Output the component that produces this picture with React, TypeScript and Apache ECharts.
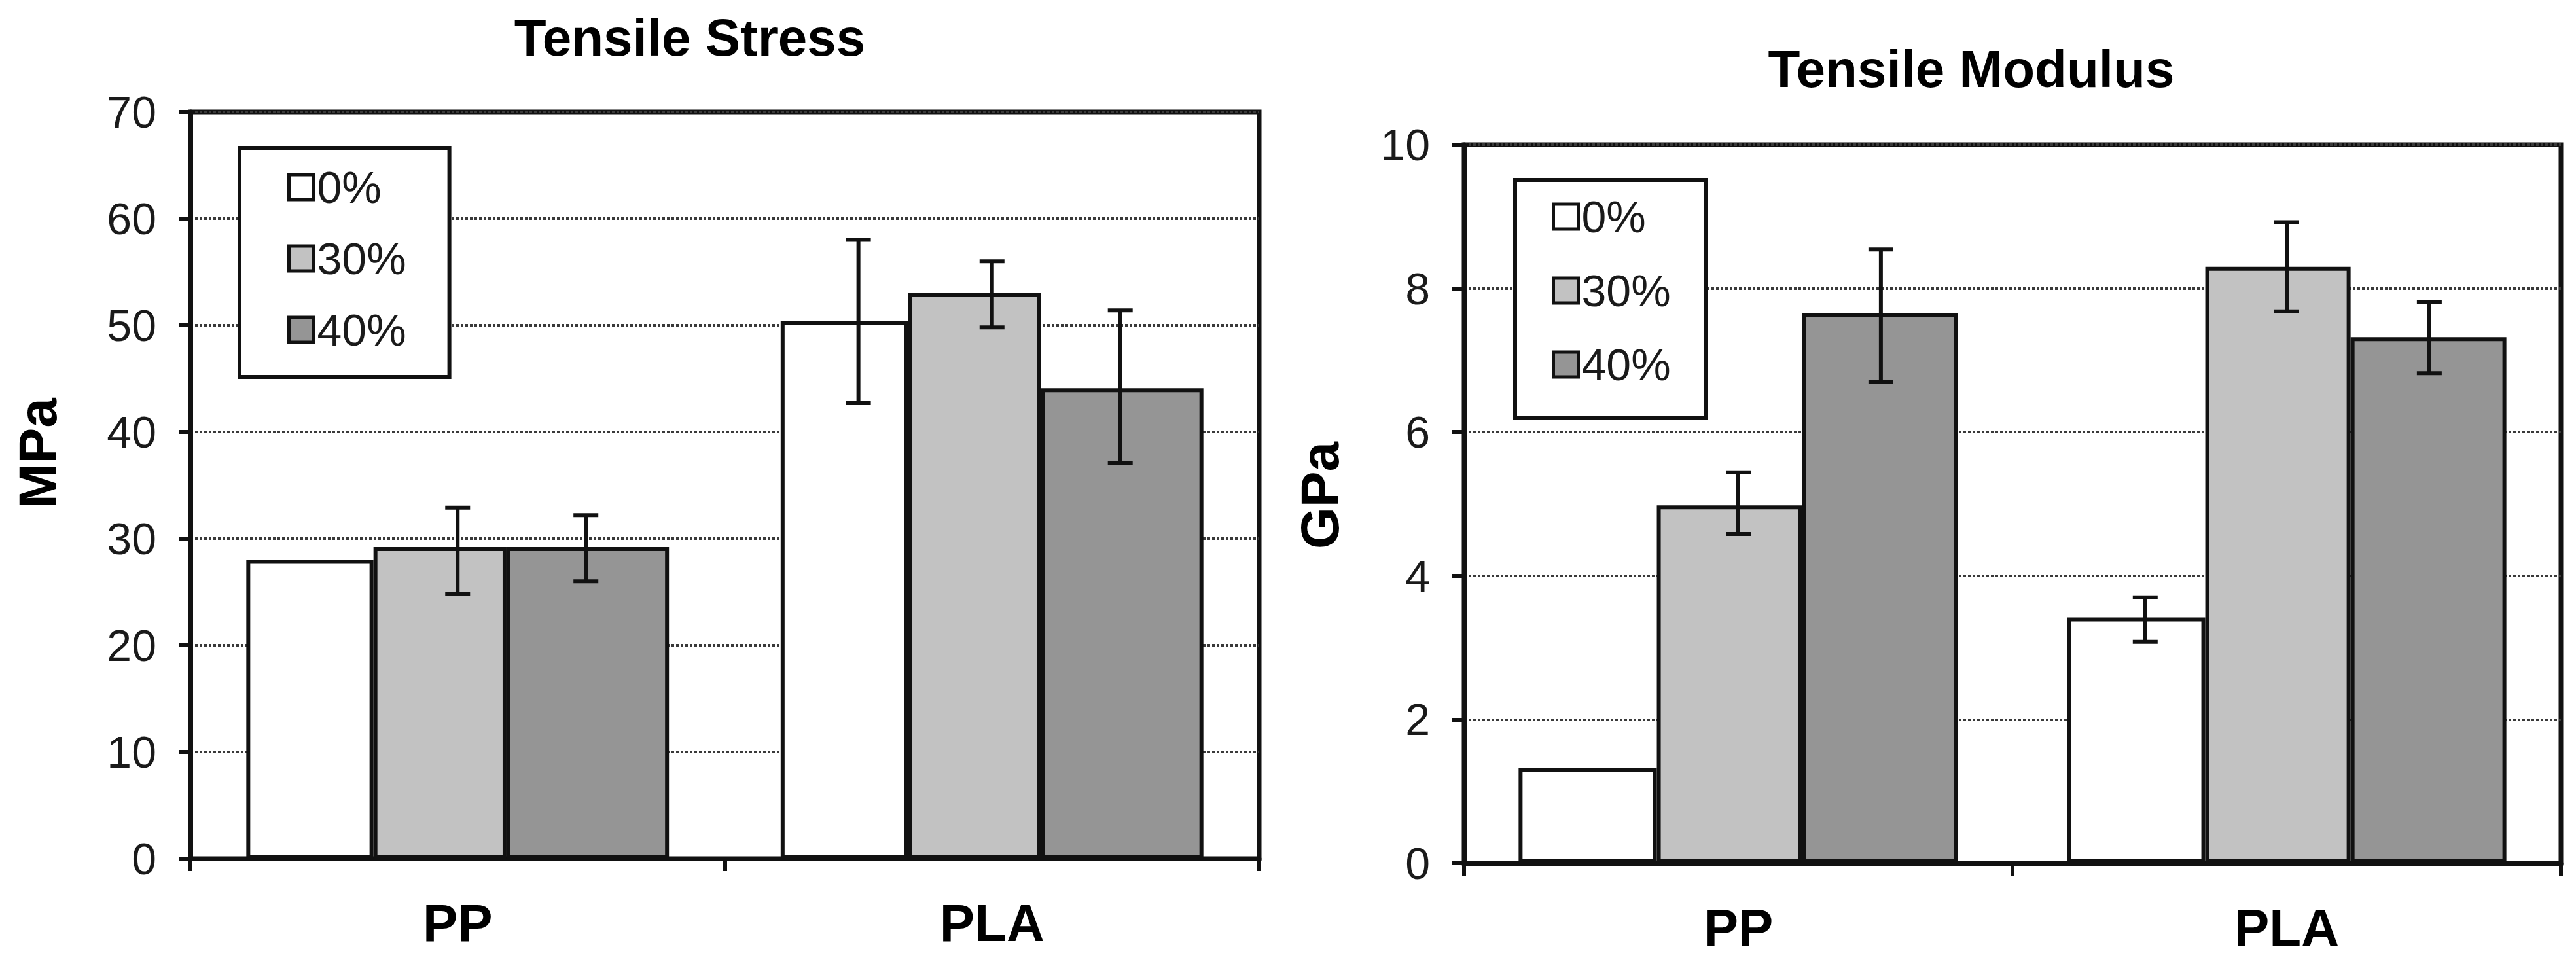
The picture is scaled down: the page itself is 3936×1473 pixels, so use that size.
import React, { useEffect, useRef } from "react";
import * as echarts from "echarts";

const categories = ["PP", "PLA"];
const groups = ["0%", "30%", "40%"];
const fills = ["#ffffff", "#c2c2c2", "#959595"];

// Tensile stress (MPa)
const stress0 = [28.0, 50.4];
const stress30 = [29.2, 53.0];
const stress40 = [29.2, 44.1];
const stressLow0 = [null, 42.7];
const stressHigh0 = [null, 58.0];
const stressLow30 = [24.8, 49.8];
const stressHigh30 = [32.9, 56.0];
const stressLow40 = [26.0, 37.1];
const stressHigh40 = [32.2, 51.4];

// Tensile modulus (GPa)
const modulus0 = [1.33, 3.42];
const modulus30 = [4.98, 8.3];
const modulus40 = [7.65, 7.32];
const modLow0 = [null, 3.08];
const modHigh0 = [null, 3.7];
const modLow30 = [4.58, 7.68];
const modHigh30 = [5.44, 8.92];
const modLow40 = [6.7, 6.82];
const modHigh40 = [8.54, 7.81];

const FONT = "'Liberation Sans', Arial, Helvetica, sans-serif";

// bar widths as share of the category band
const stressWidths = [0.238, 0.249, 0.304];
const modWidths = [0.252, 0.265, 0.284];
// where the error bars sit, as share of the band from its centre
const stressErrPos = [-0.25, 0, 0.24];
const modErrPos = [-0.258, 0, 0.26];

const errData = (low: (number | null)[], high: (number | null)[]) =>
  low
    .map((l, i) => (l == null || high[i] == null ? null : [i, l, high[i]]))
    .filter((d) => d !== null) as number[][];

const errSeries = (
  name: string,
  axis: number,
  offset: number,
  data: number[][]
) => ({
  name,
  type: "custom",
  xAxisIndex: axis,
  yAxisIndex: axis,
  z: 5,
  clip: false,
  encode: { x: 0, y: [1, 2] },
  data,
  renderItem: (params: any, api: any) => {
    const band = api.size([1, 0])[0];
    const lo = api.coord([api.value(0), api.value(1)]);
    const hi = api.coord([api.value(0), api.value(2)]);
    const x = lo[0] + offset * band;
    const cap = 19;
    const style = { stroke: "#111", lineWidth: 6 };
    return {
      type: "group",
      children: [
        { type: "line", shape: { x1: x, y1: hi[1], x2: x, y2: lo[1] }, style },
        { type: "line", shape: { x1: x - cap, y1: hi[1], x2: x + cap, y2: hi[1] }, style },
        { type: "line", shape: { x1: x - cap, y1: lo[1], x2: x + cap, y2: lo[1] }, style },
      ],
    };
  },
});

const barSeries = (name: string, axis: number, idx: number, width: number, data: number[]) => ({
  name,
  type: "bar",
  xAxisIndex: axis,
  yAxisIndex: axis,
  barWidth: `${(width * 100).toFixed(1)}%`,
  barGap: "0%",
  data,
  itemStyle: { color: fills[idx], borderColor: "#111", borderWidth: 6 },
});

const xAxisBase = (gridIndex: number) => ({
  gridIndex,
  type: "category",
  data: categories,
  axisLine: { lineStyle: { color: "#111", width: 7 } },
  axisTick: { show: true, length: 19, lineStyle: { color: "#111", width: 6 } },
  axisLabel: { fontSize: 80, fontWeight: "bold", color: "#000", margin: 58, fontFamily: FONT },
  splitLine: { show: false },
});

const yAxisBase = (gridIndex: number, max: number, interval: number, name: string, nameGap: number, shift: number) => ({
  gridIndex,
  type: "value",
  min: 0,
  max,
  interval,
  name,
  nameLocation: "middle",
  nameGap,
  nameTextStyle: {
    fontSize: 82,
    fontWeight: "bold",
    color: "#000",
    fontFamily: FONT,
    padding: [0, 0, 0, shift],
  },
  axisLine: { show: true, lineStyle: { color: "#111", width: 7 } },
  axisTick: { show: true, length: 18, lineStyle: { color: "#111", width: 6 } },
  axisLabel: { fontSize: 68, color: "#1a1a1a", margin: 52, fontFamily: FONT },
  splitLine: { show: true, lineStyle: { color: "#3a3a3a", width: 4, type: [4, 3] } },
});

const legendBase = (left: number, top: number, padding: number[], itemGap: number) => ({
  orient: "vertical",
  left,
  top,
  padding,
  itemGap,
  itemWidth: 38,
  itemHeight: 38,
  icon: "rect",
  selectedMode: false,
  borderColor: "#111",
  borderWidth: 6,
  backgroundColor: "#fff",
  data: groups,
  itemStyle: { borderColor: "#111", borderWidth: 5 },
  textStyle: { fontSize: 68, lineHeight: 66, color: "#1a1a1a", fontFamily: FONT },
});

const App: React.FC = () => {
  const chartRef = useRef<HTMLDivElement>(null);

  useEffect(() => {
    if (!chartRef.current) return;
    const chart = echarts.init(chartRef.current, undefined, { renderer: "svg" });

    const stressVals = [stress0, stress30, stress40];
    const modVals = [modulus0, modulus30, modulus40];

    const option: any = {
      animation: false,
      backgroundColor: "#fff",
      textStyle: { fontFamily: FONT },
      graphic: [
        {
          type: "text",
          x: 1054,
          y: 57,
          style: {
            text: "Tensile Stress",
            fontSize: 80,
            fontWeight: "bold",
            fontFamily: FONT,
            fill: "#000",
            textAlign: "center",
            textVerticalAlign: "middle",
          },
        },
        {
          type: "text",
          x: 3012,
          y: 105,
          style: {
            text: "Tensile Modulus",
            fontSize: 80,
            fontWeight: "bold",
            fontFamily: FONT,
            fill: "#000",
            textAlign: "center",
            textVerticalAlign: "middle",
          },
        },
      ],
      grid: [
        { left: 291, top: 171, width: 1633, height: 1141, show: true, borderColor: "#111", borderWidth: 7, backgroundColor: "#fff" },
        { left: 2237, top: 221, width: 1676, height: 1098, show: true, borderColor: "#111", borderWidth: 7, backgroundColor: "#fff" },
      ],
      xAxis: [xAxisBase(0), xAxisBase(1)],
      yAxis: [
        yAxisBase(0, 70, 10, "MPa", 193, 98),
        yAxisBase(1, 10, 2, "GPa", 180, 26),
      ],
      legend: [
        legendBase(366, 226, [26, 66, 38, 73], 41),
        legendBase(2315, 275, [22, 54, 48, 56], 45),
      ],
      series: [
        ...groups.map((g, i) => barSeries(g, 0, i, stressWidths[i], stressVals[i])),
        ...groups.map((g, i) => barSeries(g, 1, i, modWidths[i], modVals[i])),
        errSeries("stress err 0%", 0, stressErrPos[0], errData(stressLow0, stressHigh0)),
        errSeries("stress err 30%", 0, stressErrPos[1], errData(stressLow30, stressHigh30)),
        errSeries("stress err 40%", 0, stressErrPos[2], errData(stressLow40, stressHigh40)),
        errSeries("modulus err 0%", 1, modErrPos[0], errData(modLow0, modHigh0)),
        errSeries("modulus err 30%", 1, modErrPos[1], errData(modLow30, modHigh30)),
        errSeries("modulus err 40%", 1, modErrPos[2], errData(modLow40, modHigh40)),
      ],
    };

    chart.setOption(option);

    return () => {
      chart.dispose();
    };
  }, []);

  return (
    <div
      ref={chartRef}
      style={{ position: "fixed", left: 0, top: 0, width: 3936, height: 1473, background: "#fff" }}
    />
  );
};

export default App;
